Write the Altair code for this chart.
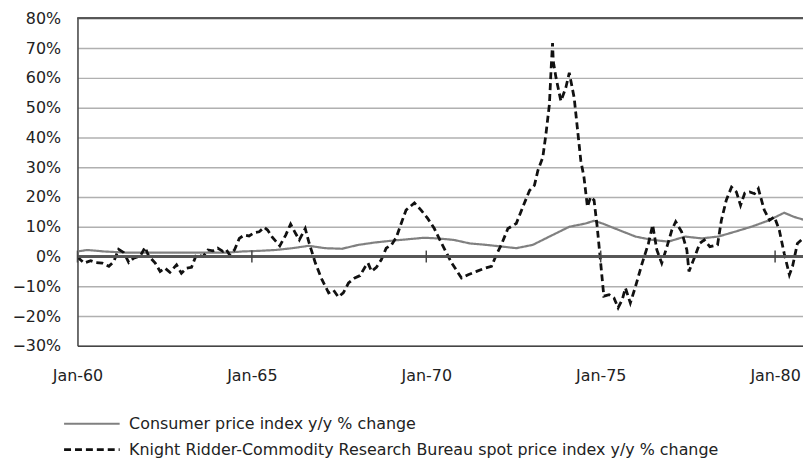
import altair as alt
import pandas as pd

CPI = "Consumer price index y/y % change"
KR = "Knight Ridder-Commodity Research Bureau spot price index y/y % change"

kr_t = [1960.00, 1960.19, 1960.38, 1960.52, 1960.71, 1960.90, 1961.04, 1961.18, 1961.33, 1961.47,
        1961.61, 1961.80, 1961.94, 1962.04, 1962.23, 1962.37, 1962.51, 1962.65, 1962.84, 1962.98,
        1963.13, 1963.27, 1963.41, 1963.60, 1963.74, 1963.88, 1964.02, 1964.17, 1964.26, 1964.36,
        1964.50, 1964.64, 1964.78, 1964.92, 1965.07, 1965.21, 1965.35, 1965.45, 1965.59, 1965.80,
        1965.97, 1966.11, 1966.25, 1966.36, 1966.53, 1966.63, 1966.82, 1967.01, 1967.20, 1967.34,
        1967.48, 1967.62, 1967.77, 1967.95, 1968.10, 1968.24, 1968.33, 1968.43, 1968.57, 1968.71,
        1968.85, 1969.00, 1969.14, 1969.28, 1969.42, 1969.66, 1969.85, 1970.04, 1970.23, 1970.44,
        1970.73, 1971.01, 1971.20, 1971.44, 1971.68, 1971.87, 1972.01, 1972.15, 1972.34, 1972.58,
        1972.77, 1972.96, 1973.10, 1973.20, 1973.34, 1973.43, 1973.53, 1973.58, 1973.62, 1973.64,
        1973.72, 1973.86, 1974.00, 1974.10, 1974.24, 1974.33, 1974.43, 1974.52, 1974.62, 1974.71,
        1974.81, 1974.90, 1975.00, 1975.09, 1975.24, 1975.38, 1975.50, 1975.62, 1975.71, 1975.85,
        1976.00, 1976.19, 1976.37, 1976.49, 1976.61, 1976.75, 1976.90, 1977.04, 1977.15, 1977.32,
        1977.47, 1977.53, 1977.70, 1977.84, 1977.97, 1978.13, 1978.35, 1978.46, 1978.60, 1978.75,
        1978.89, 1979.01, 1979.13, 1979.27, 1979.41, 1979.52, 1979.69, 1979.84, 1979.98, 1980.12,
        1980.26, 1980.41, 1980.50, 1980.64, 1980.86]
kr_v = [-0.2, -2.2, -1.4, -2.0, -2.2, -3.3, -1.7, 2.4, 1.3, -2.0,
        -0.6, 0.2, 3.1, 0.2, -2.2, -5.0, -3.9, -5.3, -2.8, -5.6,
        -3.9, -3.6, 0.6, 0.0, 2.2, 1.9, 2.8, 1.7, 2.4, 0.6,
        2.2, 6.1, 7.2, 6.9, 8.0, 8.3, 9.8, 8.9, 6.4, 3.6,
        7.2, 10.9, 7.8, 5.6, 9.4, 5.0, -2.2, -7.8, -12.2, -11.3,
        -13.6, -12.2, -8.9, -7.2, -6.4, -3.6, -2.2, -5.0, -3.6, -1.1,
        2.8, 3.9, 6.4, 11.1, 15.6, 18.0, 15.6, 12.8, 9.4, 4.4,
        -2.2, -7.2, -6.1, -5.0, -3.9, -3.3, 0.6, 3.9, 9.4, 11.1,
        16.7, 22.2, 23.9, 28.9, 33.3, 41.1, 51.1, 63.3, 71.7, 65.6,
        60.0, 52.2, 56.7, 61.7, 53.3, 43.3, 32.2, 26.7, 16.7, 20.0,
        18.9, 10.0, -2.2, -13.3, -12.8, -13.9, -17.2, -14.4, -10.6, -15.6,
        -10.0, -2.2, 4.4, 10.6, 2.2, -2.2, 3.3, 8.9, 11.7, 8.3,
        2.2, -5.0, 0.0, 4.4, 5.6, 3.3, 3.9, 12.2, 18.9, 23.3,
        21.7, 17.2, 21.3, 21.7, 21.1, 22.8, 15.6, 12.2, 13.3, 8.9,
        1.1, -6.1, -3.3, 4.4, 6.7]

cpi_t = [1960.00, 1960.28, 1960.76, 1961.42, 1962.37, 1963.31, 1964.26, 1964.73, 1965.21, 1965.68,
         1966.16, 1966.63, 1967.10, 1967.58, 1968.05, 1968.52, 1969.00, 1969.47, 1969.94, 1970.30,
         1970.78, 1971.25, 1971.73, 1972.20, 1972.58, 1973.05, 1973.53, 1974.10, 1974.57, 1974.81,
         1975.05, 1975.52, 1976.00, 1976.47, 1976.94, 1977.42, 1977.89, 1978.37, 1978.84, 1979.32,
         1979.79, 1980.26, 1980.55, 1980.86]
cpi_v = [1.7, 2.2, 1.7, 1.3, 1.3, 1.3, 1.3, 1.7, 1.9, 2.2,
         2.8, 3.6, 2.8, 2.6, 3.9, 4.7, 5.3, 5.8, 6.3, 6.1,
         5.6, 4.4, 3.9, 3.3, 2.8, 3.9, 6.7, 10.0, 11.1, 12.0,
         11.1, 8.9, 6.7, 5.6, 5.0, 6.7, 6.1, 6.7, 8.3, 10.0,
         12.0, 14.7, 13.3, 12.2]

tick_years = [1960, 1965, 1970, 1975, 1980]
y_ticks = [-30, -20, -10, 0, 10, 20, 30, 40, 50, 60, 70, 80]

FONT = "DejaVu Sans"
TXT = "#222222"

df = pd.concat([
    pd.DataFrame({"t": cpi_t, "v": cpi_v, "series": CPI}),
    pd.DataFrame({"t": kr_t, "v": kr_v, "series": KR}),
], ignore_index=True)
ticks_df = pd.DataFrame({"t": tick_years})

x_scale = alt.Scale(domain=[1960, 1980.8], nice=False, zero=False)
y_scale = alt.Scale(domain=[-30, 80], nice=False)

legend = alt.Legend(
    title=None, orient="none", legendX=3, legendY=397, direction="vertical",
    symbolType="M-2.8,0H2.8", symbolSize=400, symbolStrokeWidth=2,
    labelFont=FONT, labelFontSize=16, labelColor=TXT, labelOffset=26,
    labelLimit=900, rowPadding=6,
)

x_axis = alt.Axis(
    values=tick_years, tickCount=10, labelExpr="'Jan-' + slice(toString(datum.value), 2)",
    title=None, grid=False, ticks=False, tickSize=0, labelPadding=22,
    labelFlush=False, labelOverlap=False,
    domainColor="#444444", domainWidth=1.5,
    labelFont=FONT, labelFontSize=16, labelColor=TXT,
)
y_axis = alt.Axis(
    values=y_ticks, tickCount=20,
    labelExpr="(datum.value < 0 ? '\u2212' + abs(datum.value) : datum.value) + '%'",
    title=None, ticks=False, tickSize=0, labelPadding=17,
    labelFlush=False, labelOverlap=False,
    gridColor="#b0b0b0", gridWidth=1.5,
    domainColor="#444444", domainWidth=1.5,
    labelFont=FONT, labelFontSize=16, labelColor=TXT,
)

lines = alt.Chart(df).mark_line(clip=True).encode(
    x=alt.X("t:Q", scale=x_scale, axis=x_axis),
    y=alt.Y("v:Q", scale=y_scale, axis=y_axis),
    color=alt.Color("series:N", scale=alt.Scale(domain=[CPI, KR], range=["#808080", "#111111"]), legend=legend),
    strokeDash=alt.StrokeDash("series:N", scale=alt.Scale(domain=[CPI, KR], range=[[1, 0], [7, 4]]), legend=legend),
    strokeWidth=alt.StrokeWidth("series:N", scale=alt.Scale(domain=[CPI, KR], range=[2.2, 2.8]), legend=None),
)

zero_line = alt.Chart(ticks_df).mark_rule(color="#555555", strokeWidth=2).encode(
    y=alt.datum(0)
)
top_line = alt.Chart(ticks_df).mark_rule(color="#555555", strokeWidth=1.5).encode(
    y=alt.datum(80)
)
tick_marks = alt.Chart(ticks_df).mark_rule(color="#444444", strokeWidth=1.5).encode(
    x=alt.X("t:Q"),
    y=alt.datum(-2),
    y2=alt.datum(2),
)

chart = alt.layer(lines, zero_line, top_line, tick_marks).properties(
    width=731, height=330,
    autosize="none",
    padding={"left": 70, "top": 8.7, "right": 0, "bottom": 114},
).configure_view(strokeWidth=0).configure_axis(labelOverlap=False).configure(background="white")

chart.save("out.html", embed_options={"renderer": "svg", "actions": False})
